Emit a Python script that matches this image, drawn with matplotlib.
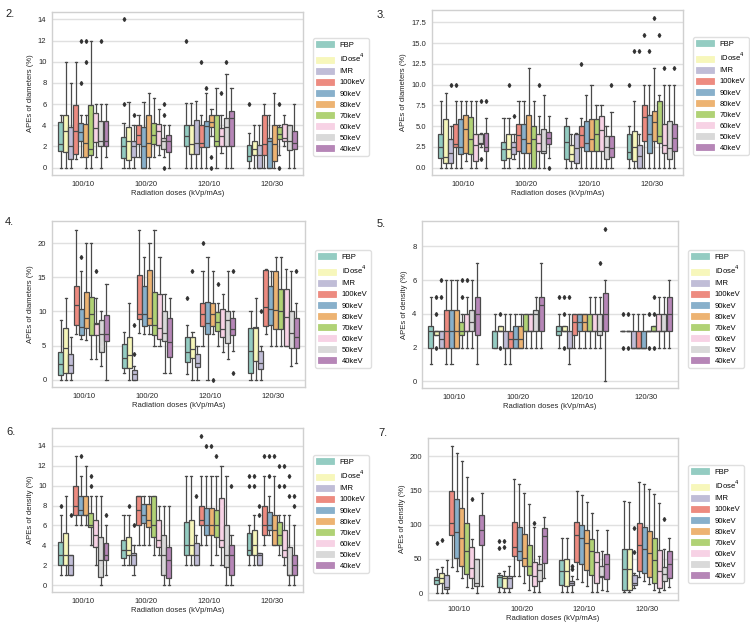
import colorsys
import matplotlib
matplotlib.use("Agg")
import matplotlib.pyplot as plt
import matplotlib.colors as mcolors
from matplotlib.patches import Patch

plt.rcParams['font.family'] = ['Liberation Sans', 'DejaVu Sans']

SERIES = ['FBP', 'iDose$^4$', 'IMR', '100keV', '90keV', '80keV', '70keV', '60keV', '50keV', '40keV']
GROUPS = ['100/10', '100/20', '120/10', '120/30']
BASE_COLORS = ['#8dd3c7', '#ffffb3', '#bebada', '#fb8072', '#80b1d3',
               '#fdb462', '#b3de69', '#fccde5', '#d9d9d9', '#bc80bd']

# ---------------- Panel 2: APEs of diameters ----------------
P2_LO = [[0, 0, 0, 0.8, 1, 0, 0, 1, 0, 1],
         [0, 0, 0, 1, 0, 0, 1, 1.2, 1, 0],
         [0, 0, 0, 0, 0, 3.0, 0, 1.4, 0, 0],
         [0, 0, 0, 0, 0, 0, 1.2, 2, 0, 0]]
P2_Q1 = [[1.6, 1.5, 0.8, 1.3, 2.5, 1.0, 1.2, 2.4, 2.0, 2.0],
         [0.9, 0.7, 1.0, 2.2, 0, 1.0, 2.2, 2.1, 1.8, 1.5],
         [2.0, 1.25, 1.25, 1.95, 1.95, 3.8, 2.0, 2.0, 2.0, 2.0],
         [0.6, 1.2, 0, 1.2, 0, 0.6, 2.7, 2.5, 1.7, 1.8]]
P2_MED = [[2.25, 3.5, 2.0, 3.5, 3.4, 2.3, 1.8, 3.7, 2.5, 2.5],
          [2.0, 2.5, 2.0, 3.1, 2.0, 2.3, 3.1, 3.5, 2.5, 2.5],
          [2.95, 2.25, 2.3, 2.35, 3.9, 4.3, 2.5, 3.0, 3.8, 4.7],
          [1.1, 1.8, 1.2, 2.2, 2.5, 2.2, 3.2, 2.8, 2.5, 2.3]]
P2_Q3 = [[4.3, 5.0, 3.8, 5.9, 4.25, 4.1, 5.9, 5.2, 4.4, 4.4],
         [2.9, 3.8, 2.5, 4.0, 3.8, 5.0, 4.25, 4.1, 2.8, 3.1],
         [4.05, 4.05, 4.5, 4.05, 4.4, 5.0, 5.0, 3.75, 4.7, 5.3],
         [2.1, 2.5, 2.1, 5.0, 2.8, 4.0, 3.8, 4.1, 4.0, 3.5]]
P2_HI = [[5, 10, 8, 10, 5, 5, 12, 6, 6, 6],
         [4.2, 6.2, 4, 5, 6.2, 7, 6.6, 5.5, 4, 4],
         [6.1, 6.1, 6.25, 5, 7, 5.5, 7.5, 5, 8.8, 7.5],
         [3.3, 4, 4, 6, 5, 7, 4, 5, 4, 6]]
P2_FLIERS = [{4: [8, 12], 5: [10, 12], 8: [12]},
             {0: [14, 6], 2: [5], 8: [6, 5, 0]},
             {0: [12], 3: [10], 4: [7.5], 5: [1, 0], 7: [7], 8: [10]},
             {0: [6], 6: [6, 0]}]

# ---------------- Panel 3: APEs of diameters ----------------
P3_LO = [[0, 0, 0, 0, 0, 0.8, 0, 0, 2.5, 0],
         [0, 0, 1.0, 0, 0, 0, 0, 0, 0, 1.2],
         [0, 0, 0, 0, 0, 0, 0, 0, 0, 0],
         [0, 0, 0, 0, 0, 0, 0, 0, 0, 0]]
P3_Q1 = [[1.2, 0.6, 0.6, 2.5, 1.6, 1.8, 1.6, 0.8, 2.8, 2.0],
         [0.9, 1.2, 1.6, 2.0, 1.7, 1.8, 0, 2.0, 1.8, 2.8],
         [1.0, 0.8, 0.6, 2.5, 2.0, 2.0, 2.0, 2.0, 1.0, 1.3],
         [1.0, 0.8, 0, 3.2, 1.8, 3.2, 3.0, 1.8, 1.0, 2.0]]
P3_MED = [[2.5, 1.3, 1.8, 2.8, 2.5, 4.6, 3.4, 2.7, 3.0, 2.5],
          [2.2, 2.2, 2.5, 3.9, 3.4, 2.9, 3.5, 3.0, 2.0, 3.6],
          [3.1, 1.6, 2.3, 3.9, 3.0, 3.5, 4.1, 4.5, 2.5, 2.3],
          [1.9, 2.5, 1.4, 6.1, 4.1, 5.5, 3.8, 2.7, 2.3, 3.6]]
P3_Q3 = [[4.0, 5.9, 3.4, 5.3, 5.9, 6.3, 6.1, 4.1, 4.0, 4.2],
         [3.1, 4.0, 3.1, 5.2, 5.3, 6.3, 5.0, 4.0, 4.6, 4.3],
         [5.0, 2.7, 4.0, 5.0, 5.6, 5.9, 5.9, 6.2, 3.8, 3.8],
         [4.0, 4.4, 2.7, 7.6, 6.3, 6.8, 8.0, 5.3, 5.6, 5.2]]
P3_HI = [[8, 9, 5, 8, 8, 8, 8, 8, 4.2, 6],
         [6, 6, 4, 8, 8, 12, 8, 6.2, 8.7, 6.2],
         [6, 4, 4.2, 6, 8.7, 10, 7.5, 7.5, 5, 6.7],
         [5, 8, 4, 10, 10, 12, 8.8, 10, 10, 10]]
P3_FLIERS = [{2: [10], 3: [10], 8: [8, 1], 9: [8]},
             {1: [10], 2: [6.2], 7: [10], 9: [0]},
             {3: [12.5], 9: [10]},
             {0: [10], 1: [14], 2: [14], 3: [16], 4: [14], 5: [18], 6: [16], 7: [12], 9: [12]}]

# ---------------- Panel 4: APEs of diameters ----------------
P4_LO = [[0, 0, 0, 6.7, 6.0, 5.8, 3, 3, 2, 0],
         [0.9, 0, 0, 6.8, 6.7, 6.7, 5, 5, 1, 1],
         [0.8, 0, 0, 5, 0, 6.7, 5, 4, 3, 4.2],
         [0, 0, 0, 6.7, 5, 5, 5, 5, 2, 2.5]]
P4_Q1 = [[0.7, 1.0, 1.0, 8.0, 6.5, 7.5, 6.6, 6.5, 4.0, 5.6],
         [1.7, 1.7, 0, 8.9, 7.9, 8.0, 6.5, 6.0, 5.7, 3.3],
         [2.6, 3.2, 1.8, 7.8, 6.7, 7.8, 7.2, 6.2, 5.4, 6.5],
         [1.0, 2.7, 1.6, 7.8, 8.0, 7.4, 7.4, 5.0, 4.6, 4.7]]
P4_MED = [[2.3, 4.6, 2.2, 11.0, 7.7, 9.0, 9.6, 8.2, 6.7, 6.7],
          [3.1, 3.6, 0.8, 9.6, 9.6, 9.1, 8.0, 7.5, 6.8, 5.5],
          [4.1, 4.5, 2.5, 9.6, 8.3, 9.6, 8.4, 7.4, 8.7, 7.4],
          [4.2, 7.6, 2.5, 10.6, 10.4, 10.2, 10.1, 9.2, 6.9, 6.3]]
P4_Q3 = [[4.0, 7.6, 3.8, 13.7, 10.3, 12.8, 12.1, 8.3, 8.7, 9.5],
         [5.2, 6.3, 1.4, 15.3, 13.8, 16.1, 12.8, 12.5, 10.0, 9.0],
         [6.2, 6.2, 3.8, 11.2, 11.4, 11.3, 9.9, 10.4, 10.0, 9.0],
         [7.6, 7.7, 4.2, 16.1, 13.7, 16.0, 13.3, 13.3, 10.0, 9.0]]
P4_HI = [[8.7, 12, 6.2, 22, 16, 20, 20, 12, 10, 14],
         [7, 11.2, 2, 22, 18, 20, 22, 18, 12.5, 12],
         [8, 7, 5, 16, 18, 16, 11.2, 12.5, 16, 10],
         [10, 12, 5, 16.3, 16, 18, 18, 16.2, 16, 11.2]]
P4_FLIERS = [{4: [18], 7: [16]},
             {2: [8, 3.7]},
             {0: [12], 1: [16], 3: [20], 5: [0], 6: [14], 9: [16, 1]},
             {2: [10], 9: [16]}]

# ---------------- Panel 5: APEs of density ----------------
P5_LO = [[1, 2.75, 2, 1, 1, 2, 2, 2, 2, 1],
         [2, 3, 1, 1, 2, 2, 2, 2, 2, 2],
         [2, 3, 1, 2, 2, 2, 2, 2, 2, 0],
         [3, 3, 2, 2, 2, 3, 3, 2, 2, 2]]
P5_Q1 = [[2.0, 2.75, 2.0, 2.0, 2.0, 2.0, 2.75, 3.0, 3.0, 2.75],
         [2, 3, 2, 2, 2, 2, 3, 3, 3, 3],
         [2.75, 3, 2, 2.75, 3, 3, 3, 3, 2.75, 3],
         [3, 3, 2, 2, 2, 3, 3, 3, 3, 3]]
P5_MED = [[3.0, 3.0, 2.5, 3.0, 3.0, 3.0, 3.0, 3.0, 3.5, 4.0],
          [3, 3, 2, 2.5, 2.5, 2.5, 3, 3, 4, 4.5],
          [3, 3, 2, 3.5, 3.5, 3.5, 3, 3, 3, 4],
          [3, 3, 2, 2, 2, 3, 3, 3, 3, 4]]
P5_Q3 = [[3.25, 3.0, 3.0, 4.25, 4.25, 4.25, 3.5, 4.0, 4.25, 5.0],
         [3, 3.25, 3, 3, 3.25, 3.25, 4, 4, 4.25, 5],
         [3.25, 3.25, 3, 4, 4, 4, 4, 4, 4, 5.25],
         [3, 3, 3, 3, 3, 3, 3.25, 4, 4, 5]]
P5_HI = [[5, 3, 3, 6, 6, 6, 4, 5, 6, 7],
         [4, 3.25, 4, 4, 4, 4, 4, 4, 5, 7],
         [4, 3.25, 4, 4, 4, 4, 5, 5, 5, 6],
         [3, 3, 4, 4, 4, 3, 3.25, 5, 5, 6]]
P5_FLIERS = [{1: [5, 4, 2], 2: [6, 5], 6: [6, 5], 7: [6]},
             {1: [4, 2]},
             {0: [5], 1: [5, 4, 2], 2: [5], 8: [7], 9: [9]},
             {0: [4, 2], 1: [4, 2], 5: [4, 2], 6: [5, 4, 2]}]

# ---------------- Panel 6: APEs of density ----------------
P6_LO = [[1, 1, 1, 6, 6, 6, 4, 2, 0, 1],
         [2, 2, 1, 4, 4, 4, 3, 3, 0, 0],
         [2, 2, 2, 4, 4, 2, 3, 2, 0, 0],
         [2, 2, 2, 4, 5, 4, 3, 2, 0, 0]]
P6_Q1 = [[2, 2, 1, 7, 7, 7, 5.8, 3.8, 0.8, 2.5],
         [2.7, 3, 2, 6, 6.2, 5.8, 4.8, 3.8, 1, 0.7],
         [3, 3, 2, 6, 5, 5, 4.8, 3.8, 1.8, 1],
         [3, 3, 2, 5, 5.5, 4, 4, 2.8, 1, 1]]
P6_MED = [[3, 3, 2, 8, 7.5, 7, 6, 5, 2.5, 3],
          [3.5, 3.5, 3, 7.5, 7, 6.5, 6, 4.5, 3, 2.5],
          [4, 4, 3, 6.5, 6, 6, 6, 4.5, 3, 3],
          [3.5, 4, 3, 6, 6, 5.5, 5, 3.5, 1, 2]]
P6_Q3 = [[4.3, 5.2, 3, 10, 9, 9, 7.2, 6.5, 4.8, 4.2],
         [4.5, 4.8, 3.2, 9, 8.2, 8.2, 9, 6.5, 5, 3.8],
         [6.3, 6.5, 4.2, 8, 7.8, 7.8, 7.5, 8.8, 6, 4],
         [5.2, 5.5, 3.2, 8, 7.3, 7, 6.3, 5.5, 3.8, 3]]
P6_HI = [[7, 9, 3, 13, 11, 12, 9, 9, 9, 6],
         [7, 7, 4, 9, 9, 9, 9, 8, 8, 8],
         [11, 11, 5, 11, 11, 11, 11, 12, 11, 5],
         [6, 7, 3.2, 11, 9, 11, 7, 7, 7, 6]]
P6_FLIERS = [{0: [8], 2: [7], 4: [13], 6: [11, 10], 9: [7]},
             {1: [8], 2: [6]},
             {2: [9], 3: [15], 4: [14], 5: [14], 6: [13], 9: [10]},
             {0: [11, 10], 1: [11, 10], 2: [8, 7], 3: [13], 4: [13, 11], 5: [13],
              6: [12, 10], 7: [12, 10], 8: [11, 9], 9: [9, 8]}]

# ---------------- Panel 7: APEs of density ----------------
P7_LO = [[0, 0, 0, 38, 32, 22, 9, 7, 0, 10],
         [2, 2, 2, 25, 25, 15, 5, 2, 2, 22],
         [2, 2, 2, 20, 17, 11, 2, 2, 5, 3],
         [2, 2, 8, 23, 18, 14, 5, 2, 5, 9]]
P7_Q1 = [[14, 15, 6, 85, 52, 40, 28, 22, 11, 70],
         [9, 8, 8, 54, 48, 40, 26, 10, 18, 44],
         [12, 10, 12, 46, 42, 34, 26, 15, 24, 21],
         [5, 5, 12, 33, 29, 23, 15, 8, 18, 22]]
P7_MED = [[19, 22, 9, 102, 90, 80, 62, 37, 15, 93],
          [23, 22, 22, 67, 61, 52, 40, 25, 34, 84],
          [33, 33, 15, 85, 80, 73, 62, 45, 25, 43],
          [35, 35, 15, 70, 65, 59, 48, 33, 28, 43]]
P7_Q3 = [[24, 29, 26, 149, 138, 125, 102, 67, 50, 115],
         [27, 25, 25, 104, 97, 87, 71, 45, 43, 96],
         [48, 50, 18, 104, 99, 92, 79, 60, 40, 58],
         [65, 65, 27, 102, 97, 91, 80, 63, 38, 62]]
P7_HI = [[35, 38, 48, 216, 205, 193, 170, 79, 50, 146],
         [30, 32, 40, 167, 160, 147, 130, 97, 55, 112],
         [80, 80, 25, 150, 143, 133, 118, 93, 62, 93],
         [135, 133, 30, 163, 160, 153, 145, 132, 65, 81]]
P7_FLIERS = [{0: [73], 1: [78], 7: [138]},
             {0: [77, 66], 1: [77, 68], 7: [103]},
             {2: [40, 35]},
             {2: [95, 60], 8: [109]}]

PANELS = [
    dict(num='2.', ylabel='APEs of diameters (%)', stats=(P2_LO, P2_Q1, P2_MED, P2_Q3, P2_HI, P2_FLIERS),
         ylim=(-0.7, 14.7), yticks=[0, 2, 4, 6, 8, 10, 12, 14], fmt='{:g}',
         rect=(52, 12, 303, 175), leg=(313, 38), lab=(5, 9)),
    dict(num='3.', ylabel='APEs of diameters (%)', stats=(P3_LO, P3_Q1, P3_MED, P3_Q3, P3_HI, P3_FLIERS),
         ylim=(-0.9, 19.0), yticks=[0, 2.5, 5, 7.5, 10, 12.5, 15, 17.5], fmt='{:.1f}',
         rect=(432, 10, 683, 175), leg=(693, 37), lab=(377, 10)),
    dict(num='4.', ylabel='APEs of diameters (%)', stats=(P4_LO, P4_Q1, P4_MED, P4_Q3, P4_HI, P4_FLIERS),
         ylim=(-1.1, 23.3), yticks=[0, 5, 10, 15, 20], fmt='{:g}',
         rect=(52, 221, 305, 387), leg=(315, 250), lab=(5, 217)),
    dict(num='5.', ylabel='APEs of density (%)', stats=(P5_LO, P5_Q1, P5_MED, P5_Q3, P5_HI, P5_FLIERS),
         ylim=(-0.4, 9.5), yticks=[0, 2, 4, 6, 8], fmt='{:g}',
         rect=(422, 221, 678, 388), leg=(688, 250), lab=(377, 219)),
    dict(num='6.', ylabel='APEs of density (%)', stats=(P6_LO, P6_Q1, P6_MED, P6_Q3, P6_HI, P6_FLIERS),
         ylim=(-0.7, 15.8), yticks=[0, 2, 4, 6, 8, 10, 12, 14], fmt='{:g}',
         rect=(52, 428, 303, 592), leg=(313, 455), lab=(6, 427)),
    dict(num='7.', ylabel='APEs of density (%)', stats=(P7_LO, P7_Q1, P7_MED, P7_Q3, P7_HI, P7_FLIERS),
         ylim=(-10, 227), yticks=[0, 50, 100, 150, 200], fmt='{:g}',
         rect=(428, 438, 678, 600), leg=(688, 465), lab=(378, 428)),
]

W, H = 750, 631
LINE = '#4a4a4a'
LW = 0.9
FS = 5.5


def desat(c, prop=0.8):
    r, g, b = mcolors.to_rgb(c)
    h, l, s = colorsys.rgb_to_hls(r, g, b)
    return colorsys.hls_to_rgb(h, l, s * prop)


COLORS = [desat(c) for c in BASE_COLORS]

fig = plt.figure(figsize=(W / 100, H / 100), dpi=100)
fig.patch.set_facecolor('white')

n = len(SERIES)
bw = 0.8 / n

for p in PANELS:
    l, t, r, b = p['rect']
    ax = fig.add_axes([l / W, 1 - b / H, (r - l) / W, (b - t) / H])
    LO, Q1, MED, Q3, HI, FL = p['stats']
    for s in range(n):
        stats = []
        pos = []
        for g in range(len(GROUPS)):
            stats.append(dict(whislo=LO[g][s], q1=Q1[g][s], med=MED[g][s], q3=Q3[g][s],
                              whishi=HI[g][s], fliers=FL[g].get(s, [])))
            pos.append(g + (s - (n - 1) / 2) * bw)
        ax.bxp(stats, positions=pos, widths=bw * 0.98, patch_artist=True, showfliers=True,
               capwidths=bw * 0.45, manage_ticks=False,
               boxprops=dict(facecolor=COLORS[s], edgecolor=LINE, linewidth=LW),
               whiskerprops=dict(color=LINE, linewidth=LW),
               capprops=dict(color=LINE, linewidth=LW),
               medianprops=dict(color=LINE, linewidth=LW),
               flierprops=dict(marker='d', markersize=2.0, markerfacecolor='#333333',
                               markeredgecolor='#333333', linestyle='none'))
    ax.set_xlim(-0.5, len(GROUPS) - 0.5)
    ax.set_ylim(*p['ylim'])
    ax.set_xticks(range(len(GROUPS)))
    ax.set_xticklabels(GROUPS)
    ax.set_yticks(p['yticks'])
    ax.set_yticklabels([p['fmt'].format(v) for v in p['yticks']])
    ax.yaxis.grid(True, color='#e0e0e0', linewidth=1.0)
    ax.set_axisbelow(True)
    for sp in ax.spines.values():
        sp.set_color('#d0d0d0')
        sp.set_linewidth(1.0)
    ax.tick_params(length=0, labelsize=FS, colors='#262626', pad=4)
    ax.set_xlabel('Radiation doses (kVp/mAs)', fontsize=FS, color='#262626', labelpad=2)
    ax.set_ylabel(p['ylabel'], fontsize=FS, color='#262626', labelpad=3)
    handles = [Patch(facecolor=COLORS[i], edgecolor=COLORS[i], linewidth=0.6, label=SERIES[i])
               for i in range(n)]
    lx, ly = p['leg']
    ax.legend(handles=handles, loc='upper left', bbox_to_anchor=(lx / W, 1 - ly / H),
              bbox_transform=fig.transFigure, fontsize=FS, frameon=True,
              edgecolor='#d8d8d8', handlelength=2.3, handleheight=0.8,
              labelspacing=0.45, borderpad=0.4, borderaxespad=0, handletextpad=0.8)
    fx, fy = p['lab']
    fig.text(fx / W, 1 - fy / H, p['num'], fontsize=8, va='top', ha='left', color='#222222')

fig.savefig('out.png', dpi=100, facecolor='white')
